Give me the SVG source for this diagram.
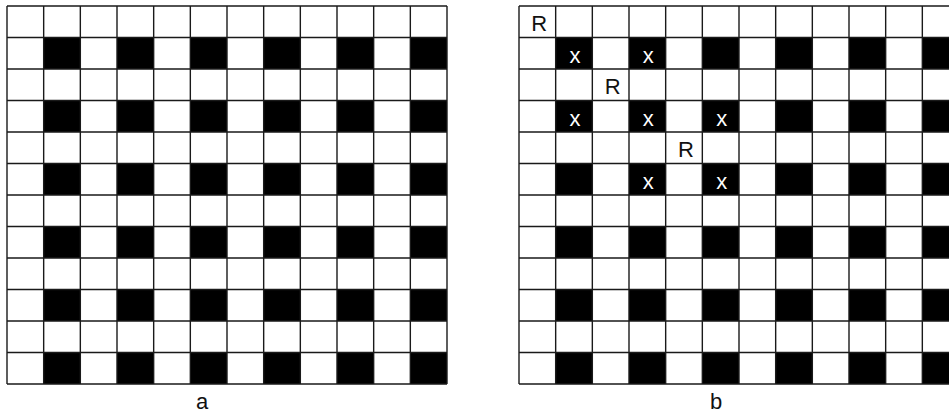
<svg xmlns="http://www.w3.org/2000/svg" xmlns:xlink="http://www.w3.org/1999/xlink" width="949" height="414" viewBox="0 0 949 414">
<style>
.bk{fill:#000}
.ln{stroke:#1a1a1a;stroke-width:1.4;fill:none}
.r{font-family:"Liberation Sans",Arial,sans-serif;font-size:22px;fill:#111;text-anchor:middle}
.x{font-family:"Liberation Sans",Arial,sans-serif;font-size:22px;fill:#fff;text-anchor:middle}
.cap{font-family:"Liberation Sans",Arial,sans-serif;font-size:22px;fill:#111;text-anchor:middle}
</style>
<defs>
<g id="board">
<rect x="7" y="6" width="440" height="378" fill="#fff"/>
<g class="bk">
<rect x="43.67" y="37.5" width="36.67" height="31.5"/><rect x="117" y="37.5" width="36.67" height="31.5"/><rect x="190.33" y="37.5" width="36.67" height="31.5"/><rect x="263.67" y="37.5" width="36.67" height="31.5"/><rect x="337" y="37.5" width="36.67" height="31.5"/><rect x="410.33" y="37.5" width="36.67" height="31.5"/>
<rect x="43.67" y="100.5" width="36.67" height="31.5"/><rect x="117" y="100.5" width="36.67" height="31.5"/><rect x="190.33" y="100.5" width="36.67" height="31.5"/><rect x="263.67" y="100.5" width="36.67" height="31.5"/><rect x="337" y="100.5" width="36.67" height="31.5"/><rect x="410.33" y="100.5" width="36.67" height="31.5"/>
<rect x="43.67" y="163.5" width="36.67" height="31.5"/><rect x="117" y="163.5" width="36.67" height="31.5"/><rect x="190.33" y="163.5" width="36.67" height="31.5"/><rect x="263.67" y="163.5" width="36.67" height="31.5"/><rect x="337" y="163.5" width="36.67" height="31.5"/><rect x="410.33" y="163.5" width="36.67" height="31.5"/>
<rect x="43.67" y="226.5" width="36.67" height="31.5"/><rect x="117" y="226.5" width="36.67" height="31.5"/><rect x="190.33" y="226.5" width="36.67" height="31.5"/><rect x="263.67" y="226.5" width="36.67" height="31.5"/><rect x="337" y="226.5" width="36.67" height="31.5"/><rect x="410.33" y="226.5" width="36.67" height="31.5"/>
<rect x="43.67" y="289.5" width="36.67" height="31.5"/><rect x="117" y="289.5" width="36.67" height="31.5"/><rect x="190.33" y="289.5" width="36.67" height="31.5"/><rect x="263.67" y="289.5" width="36.67" height="31.5"/><rect x="337" y="289.5" width="36.67" height="31.5"/><rect x="410.33" y="289.5" width="36.67" height="31.5"/>
<rect x="43.67" y="352.5" width="36.67" height="31.5"/><rect x="117" y="352.5" width="36.67" height="31.5"/><rect x="190.33" y="352.5" width="36.67" height="31.5"/><rect x="263.67" y="352.5" width="36.67" height="31.5"/><rect x="337" y="352.5" width="36.67" height="31.5"/><rect x="410.33" y="352.5" width="36.67" height="31.5"/>
</g>
<path class="ln" d="M7 6V384M43.67 6V384M80.33 6V384M117 6V384M153.67 6V384M190.33 6V384M227 6V384M263.67 6V384M300.33 6V384M337 6V384M373.67 6V384M410.33 6V384M447 6V384M7 6H447M7 37.5H447M7 69H447M7 100.5H447M7 132H447M7 163.5H447M7 195H447M7 226.5H447M7 258H447M7 289.5H447M7 321H447M7 352.5H447M7 384H447"/>
</g>
</defs>
<g id="grid-a">
<use xlink:href="#board" href="#board"/>
</g>
<g id="grid-b">
<use xlink:href="#board" href="#board" x="512"/>
<text class="r" x="539.3" y="31">R</text>
<text class="r" x="612.7" y="94">R</text>
<text class="r" x="686" y="157">R</text>
<text class="x" x="575" y="63">x</text>
<text class="x" x="648.3" y="63">x</text>
<text class="x" x="575" y="126">x</text>
<text class="x" x="648.3" y="126">x</text>
<text class="x" x="721.7" y="126">x</text>
<text class="x" x="648.3" y="189">x</text>
<text class="x" x="721.7" y="189">x</text>
</g>
<text id="label-a" class="cap" x="202" y="409">a</text>
<text id="label-b" class="cap" x="716" y="409">b</text>
</svg>
